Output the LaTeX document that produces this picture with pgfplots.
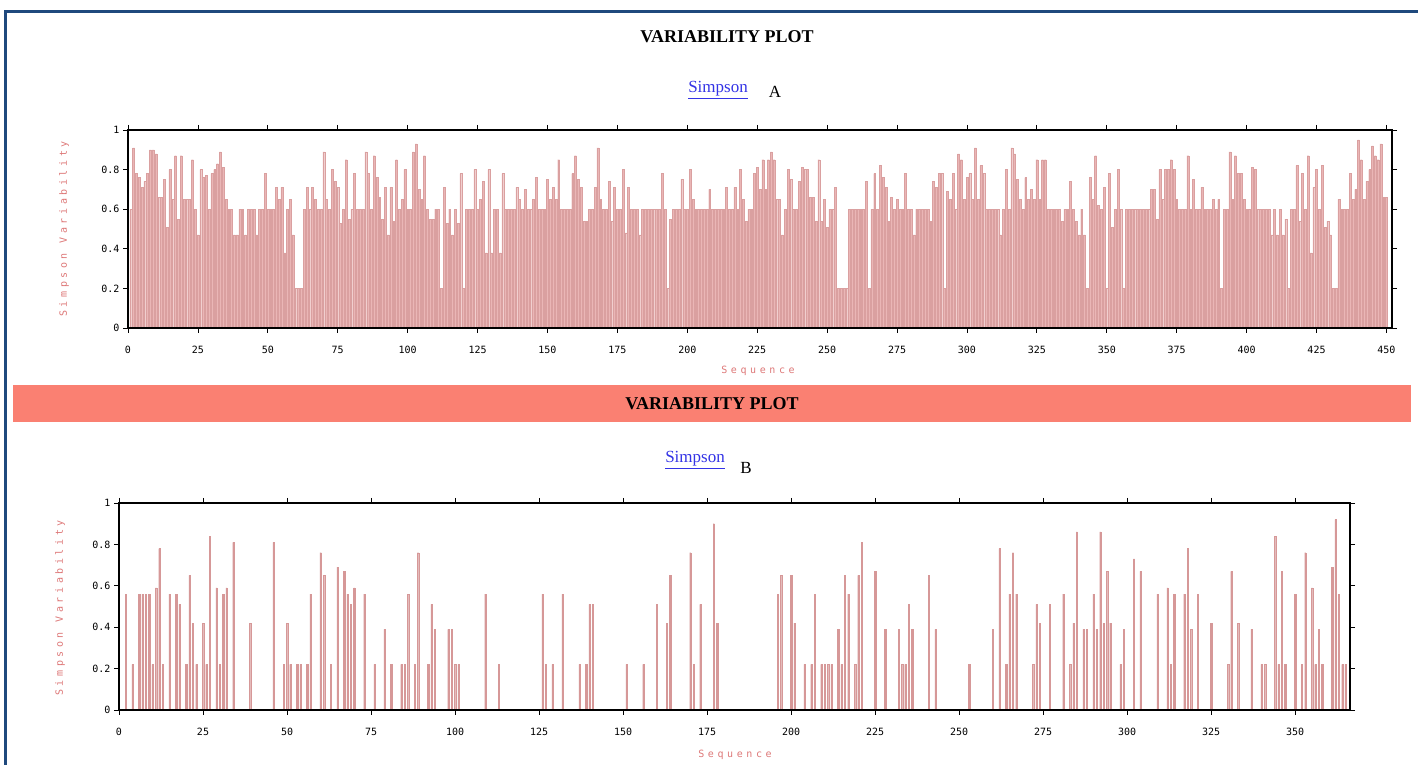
\documentclass[border=0pt]{standalone}
\usepackage{fontspec}
\setmainfont{Liberation Serif}
\newfontfamily\monofont{DejaVu Sans Mono}
\newfontfamily\labfont[LetterSpace=36]{DejaVu Sans Mono}
\usepackage{pgfplots}
\usepackage{pgfplotstable}
\pgfplotsset{compat=1.18}
\definecolor{framecol}{RGB}{31,73,125}
\definecolor{salmonband}{RGB}{250,128,114}
\definecolor{barfill}{RGB}{234,182,182}
\definecolor{baredge}{RGB}{218,160,160}
\definecolor{barB}{RGB}{214,152,152}
\definecolor{labcol}{RGB}{222,120,120}
\definecolor{linkcol}{RGB}{51,51,230}

\pgfplotstableread[row sep=\\]{
y\\
0.60\\0.91\\0.78\\0.76\\0.71\\0.74\\0.78\\0.90\\0.90\\0.88\\
0.66\\0.66\\0.75\\0.51\\0.80\\0.65\\0.87\\0.55\\0.87\\0.65\\
0.65\\0.65\\0.85\\0.60\\0.47\\0.80\\0.76\\0.77\\0.60\\0.78\\
0.80\\0.83\\0.89\\0.81\\0.65\\0.60\\0.60\\0.47\\0.47\\0.60\\
0.60\\0.47\\0.60\\0.60\\0.60\\0.47\\0.60\\0.60\\0.78\\0.60\\
0.60\\0.60\\0.71\\0.65\\0.71\\0.38\\0.60\\0.65\\0.47\\0.20\\
0.20\\0.20\\0.60\\0.71\\0.60\\0.71\\0.65\\0.60\\0.60\\0.89\\
0.65\\0.60\\0.80\\0.74\\0.71\\0.53\\0.60\\0.85\\0.55\\0.60\\
0.78\\0.60\\0.60\\0.60\\0.89\\0.78\\0.60\\0.87\\0.76\\0.66\\
0.55\\0.71\\0.47\\0.71\\0.54\\0.85\\0.60\\0.65\\0.80\\0.60\\
0.60\\0.89\\0.93\\0.70\\0.65\\0.87\\0.60\\0.55\\0.55\\0.60\\
0.60\\0.20\\0.71\\0.53\\0.60\\0.47\\0.60\\0.53\\0.78\\0.20\\
0.60\\0.60\\0.60\\0.80\\0.60\\0.65\\0.74\\0.38\\0.80\\0.38\\
0.60\\0.60\\0.38\\0.78\\0.60\\0.60\\0.60\\0.60\\0.71\\0.65\\
0.60\\0.70\\0.60\\0.60\\0.65\\0.76\\0.60\\0.60\\0.60\\0.75\\
0.65\\0.71\\0.65\\0.85\\0.60\\0.60\\0.60\\0.60\\0.78\\0.87\\
0.75\\0.71\\0.54\\0.54\\0.60\\0.60\\0.71\\0.91\\0.65\\0.60\\
0.60\\0.74\\0.54\\0.71\\0.60\\0.60\\0.80\\0.48\\0.71\\0.60\\
0.60\\0.60\\0.47\\0.60\\0.60\\0.60\\0.60\\0.60\\0.60\\0.60\\
0.78\\0.60\\0.20\\0.55\\0.60\\0.60\\0.60\\0.75\\0.60\\0.60\\
0.80\\0.65\\0.60\\0.60\\0.60\\0.60\\0.60\\0.70\\0.60\\0.60\\
0.60\\0.60\\0.60\\0.71\\0.60\\0.60\\0.71\\0.60\\0.80\\0.65\\
0.54\\0.60\\0.60\\0.78\\0.81\\0.70\\0.85\\0.70\\0.85\\0.89\\
0.85\\0.65\\0.65\\0.47\\0.60\\0.80\\0.75\\0.60\\0.60\\0.74\\
0.81\\0.80\\0.80\\0.66\\0.66\\0.54\\0.85\\0.54\\0.65\\0.51\\
0.60\\0.60\\0.71\\0.20\\0.20\\0.20\\0.20\\0.60\\0.60\\0.60\\
0.60\\0.60\\0.60\\0.74\\0.20\\0.60\\0.78\\0.60\\0.82\\0.76\\
0.71\\0.54\\0.66\\0.60\\0.65\\0.60\\0.60\\0.78\\0.60\\0.60\\
0.47\\0.60\\0.60\\0.60\\0.60\\0.60\\0.54\\0.74\\0.71\\0.78\\
0.78\\0.20\\0.69\\0.65\\0.78\\0.60\\0.88\\0.85\\0.65\\0.76\\
0.78\\0.65\\0.91\\0.65\\0.82\\0.78\\0.60\\0.60\\0.60\\0.60\\
0.60\\0.47\\0.60\\0.80\\0.60\\0.91\\0.88\\0.75\\0.65\\0.60\\
0.76\\0.65\\0.70\\0.65\\0.85\\0.65\\0.85\\0.85\\0.60\\0.60\\
0.60\\0.60\\0.60\\0.54\\0.60\\0.60\\0.74\\0.60\\0.54\\0.47\\
0.60\\0.47\\0.20\\0.76\\0.65\\0.87\\0.62\\0.60\\0.71\\0.20\\
0.78\\0.51\\0.60\\0.80\\0.60\\0.20\\0.60\\0.60\\0.60\\0.60\\
0.60\\0.60\\0.60\\0.60\\0.60\\0.70\\0.70\\0.55\\0.80\\0.65\\
0.80\\0.80\\0.85\\0.80\\0.65\\0.60\\0.60\\0.60\\0.87\\0.60\\
0.75\\0.60\\0.60\\0.71\\0.60\\0.60\\0.60\\0.65\\0.60\\0.65\\
0.20\\0.60\\0.60\\0.89\\0.65\\0.87\\0.78\\0.78\\0.65\\0.60\\
0.60\\0.81\\0.80\\0.60\\0.60\\0.60\\0.60\\0.60\\0.47\\0.60\\
0.47\\0.60\\0.47\\0.55\\0.20\\0.60\\0.60\\0.82\\0.54\\0.78\\
0.60\\0.87\\0.38\\0.71\\0.80\\0.60\\0.82\\0.51\\0.54\\0.47\\
0.20\\0.20\\0.65\\0.60\\0.60\\0.60\\0.78\\0.65\\0.70\\0.95\\
0.85\\0.65\\0.74\\0.80\\0.92\\0.87\\0.85\\0.93\\0.66\\0.66\\
}\tabA

\pgfplotsset{varstyle/.style={
  scale only axis, axis on top,
  ymin=0, ymax=1, ytick={0,0.2,0.4,0.6,0.8,1},
  tick align=outside, major tick length=5pt,
  tick style={black, line width=0.8pt},
  axis line style={black, line width=1.2pt},
  tick label style={font=\monofont\fontsize{10}{11}\selectfont},
  xticklabel style={yshift=-10pt},
  /pgf/number format/assume math mode=true,
  enlargelimits=false,
}}

\begin{document}
\begin{tikzpicture}
\useasboundingbox (0pt,0pt) rectangle (1418pt,765pt);
\fill[white] (0pt,0pt) rectangle (1418pt,765pt);
% frame
\draw[framecol, line width=3pt] (5.5pt,0pt) -- (5.5pt,753pt) -- (1418pt,753pt);

% titles panel A
\node[font=\fontsize{18}{20}\selectfont\bfseries] at (727pt,728pt) {VARIABILITY PLOT};
\node[font=\fontsize{17}{19}\selectfont, text=linkcol] at (718pt,675pt) {\underline{Simpson}};
\node[font=\fontsize{17}{19}\selectfont] at (775pt,673pt) {A};

\begin{axis}[varstyle, at={(128pt,437pt)}, anchor=south west,
  width=1264pt, height=198pt, xmin=0, xmax=452, xtick={0,25,...,450}]
\addplot[ybar, bar width=1.9pt, fill=barfill, draw=baredge, line width=0.3pt]
  table[x expr=\coordindex+1, y=y] {\tabA};
\end{axis}
\node[rotate=90, font=\labfont\fontsize{10}{11}\selectfont, text=labcol] at (64pt,536pt) {Simpson Variability};
\node[font=\labfont\fontsize{10}{11}\selectfont, text=labcol] at (758pt,394pt) {Sequence};

% band
\fill[salmonband] (13pt,343pt) rectangle (1411pt,380pt);
\node[font=\fontsize{18}{20}\selectfont\bfseries] at (712pt,361pt) {VARIABILITY PLOT};
\node[font=\fontsize{17}{19}\selectfont, text=linkcol] at (695pt,305pt) {\underline{Simpson}};
\node[font=\fontsize{17}{19}\selectfont] at (746pt,297pt) {B};

\begin{axis}[varstyle, at={(119pt,55pt)}, anchor=south west,
  width=1231pt, height=207pt, xmin=0, xmax=366.3, xtick={0,25,...,350}]
\addplot[ybar, bar width=1.3pt, fill=barB, draw=barB, line width=0.2pt] coordinates {
(2,0.56)(4,0.22)(6,0.56)(7,0.56)(8,0.56)(9,0.56)(10,0.22)(11,0.59)(12,0.78)(13,0.22)
(15,0.56)(17,0.56)(18,0.51)(20,0.22)(21,0.65)(22,0.42)(23,0.22)(25,0.42)(26,0.22)(27,0.84)
(29,0.59)(30,0.22)(31,0.56)(32,0.59)(34,0.81)(39,0.42)(46,0.81)(49,0.22)(50,0.42)(51,0.22)
(53,0.22)(54,0.22)(56,0.22)(57,0.56)(60,0.76)(61,0.65)(63,0.22)(65,0.69)(67,0.67)(68,0.56)
(69,0.51)(70,0.59)(73,0.56)(76,0.22)(79,0.39)(81,0.22)(84,0.22)(85,0.22)(86,0.56)(88,0.22)
(89,0.76)(92,0.22)(93,0.51)(94,0.39)(98,0.39)(99,0.39)(100,0.22)(101,0.22)(109,0.56)(113,0.22)
(126,0.56)(127,0.22)(129,0.22)(132,0.56)(137,0.22)(139,0.22)(140,0.51)(141,0.51)(151,0.22)(156,0.22)
(160,0.51)(163,0.42)(164,0.65)(170,0.76)(171,0.22)(173,0.51)(177,0.9)(178,0.42)(196,0.56)(197,0.65)
(200,0.65)(201,0.42)(204,0.22)(206,0.22)(207,0.56)(209,0.22)(210,0.22)(211,0.22)(212,0.22)(214,0.39)
(215,0.22)(216,0.65)(217,0.56)(219,0.22)(220,0.65)(221,0.81)(225,0.67)(228,0.39)(232,0.39)(233,0.22)
(234,0.22)(235,0.51)(236,0.39)(241,0.65)(243,0.39)(253,0.22)(260,0.39)(262,0.78)(264,0.22)(265,0.56)
(266,0.76)(267,0.56)(272,0.22)(273,0.51)(274,0.42)(277,0.51)(281,0.56)(283,0.22)(284,0.42)(285,0.86)
(287,0.39)(288,0.39)(290,0.56)(291,0.39)(292,0.86)(293,0.42)(294,0.67)(295,0.42)(298,0.22)(299,0.39)
(302,0.73)(304,0.67)(309,0.56)(312,0.59)(313,0.22)(314,0.56)(317,0.56)(318,0.78)(319,0.39)(321,0.56)
(325,0.42)(330,0.22)(331,0.67)(333,0.42)(337,0.39)(340,0.22)(341,0.22)(344,0.84)(345,0.22)(346,0.67)
(347,0.22)(350,0.56)(352,0.22)(353,0.76)(355,0.59)(356,0.22)(357,0.39)(358,0.22)(361,0.69)(362,0.92)
(363,0.56)(364,0.22)(365,0.22)
};
\end{axis}
\node[rotate=90, font=\labfont\fontsize{10}{11}\selectfont, text=labcol] at (60pt,157pt) {Simpson Variability};
\node[font=\labfont\fontsize{10}{11}\selectfont, text=labcol] at (735pt,10pt) {Sequence};
\end{tikzpicture}
\end{document}
